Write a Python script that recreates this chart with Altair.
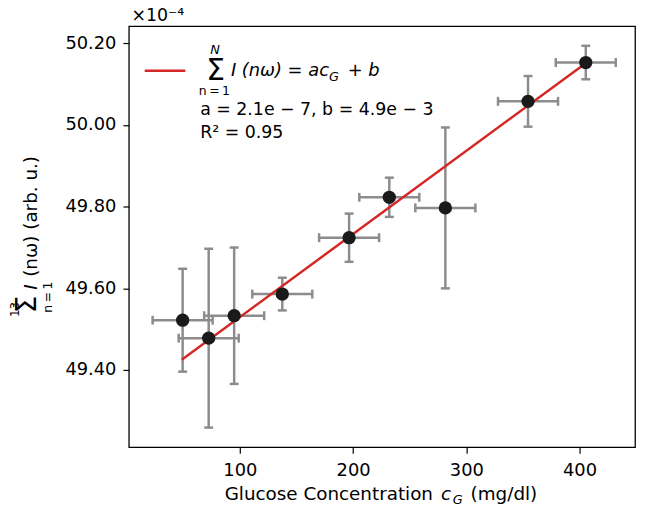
import altair as alt
import pandas as pd

FONT = "DejaVu Sans"

# --- data ---
glucose = [49.5, 72.5, 95.0, 137.5, 196.5, 232.0, 281.5, 354.5, 405.5]
signal = [49.522, 49.478, 49.533, 49.586, 49.724, 49.823, 49.797, 50.058, 50.153]
signal_err = [0.126, 0.219, 0.167, 0.040, 0.059, 0.048, 0.197, 0.062, 0.041]
glucose_err = [26.5, 26.5, 26.5, 26.5, 26.5, 26.5, 26.5, 26.5, 26.5]
fit_x = [48.7, 405.7]
fit_y = [49.425, 50.152]
x_ticks = [100, 200, 300, 400]
y_ticks = [49.4, 49.6, 49.8, 50.0, 50.2]

df = pd.DataFrame({"x": glucose, "y": signal, "ye": signal_err, "xe": glucose_err})
df["xlo"] = df["x"] - df["xe"]
df["xhi"] = df["x"] + df["xe"]
df["ylo"] = df["y"] - df["ye"]
df["yhi"] = df["y"] + df["ye"]
fit = pd.DataFrame({"x": fit_x, "y": fit_y})

xs = alt.Scale(domain=[2, 449], nice=False, zero=False)
ys = alt.Scale(domain=[49.211, 50.242], nice=False, zero=False)
xax = alt.Axis(values=x_ticks, format="d", title=None, labelPadding=9)
yax = alt.Axis(values=y_ticks, format=".2f", title=None, labelPadding=7)

GRAY = "#8c8c8c"
base = alt.Chart(df)

xerr = base.mark_rule(color=GRAY, strokeWidth=2.5).encode(
    x=alt.X("xlo:Q", scale=xs, axis=xax), x2="xhi:Q", y=alt.Y("y:Q", scale=ys, axis=yax))
yerr = base.mark_rule(color=GRAY, strokeWidth=2.5).encode(
    x=alt.X("x:Q", scale=xs), y=alt.Y("ylo:Q", scale=ys), y2="yhi:Q")
cap_xlo = base.mark_tick(color=GRAY, orient="vertical", size=9, thickness=2.5, opacity=1).encode(
    x=alt.X("xlo:Q", scale=xs), y=alt.Y("y:Q", scale=ys))
cap_xhi = base.mark_tick(color=GRAY, orient="vertical", size=9, thickness=2.5, opacity=1).encode(
    x=alt.X("xhi:Q", scale=xs), y=alt.Y("y:Q", scale=ys))
cap_ylo = base.mark_tick(color=GRAY, orient="horizontal", size=9, thickness=2.5, opacity=1).encode(
    x=alt.X("x:Q", scale=xs), y=alt.Y("ylo:Q", scale=ys))
cap_yhi = base.mark_tick(color=GRAY, orient="horizontal", size=9, thickness=2.5, opacity=1).encode(
    x=alt.X("x:Q", scale=xs), y=alt.Y("yhi:Q", scale=ys))

line = alt.Chart(fit).mark_line(color="#d62728", strokeWidth=2.5).encode(
    x=alt.X("x:Q", scale=xs), y=alt.Y("y:Q", scale=ys))
pts = base.mark_circle(color="#1a1a1a", size=180, opacity=1).encode(
    x=alt.X("x:Q", scale=xs), y=alt.Y("y:Q", scale=ys))


def txt(s, x, y, size=18, style="normal", angle=0, align="left", baseline="alphabetic"):
    return alt.Chart(alt.Data(values=[{"t": s}])).mark_text(
        font=FONT, fontSize=size, fontStyle=style, angle=angle, align=align,
        baseline=baseline, color="black").encode(
        x=alt.value(x), y=alt.value(y), text="t:N")


legend_line = alt.Chart(alt.Data(values=[{"a": 1}])).mark_rule(
    color="#d62728", strokeWidth=2.5).encode(x=alt.value(16), x2=alt.value(57), y=alt.value(45))

annots = [
    # legend equation
    txt("Σ", 87.5, 54, size=30, align="center"),
    txt("N", 87, 28, size=13, style="italic", align="center"),
    txt("n\u2009=\u20091", 86.3, 69.3, size=12.5, align="center"),
    txt("I (nω) = ac", 103, 50.5, style="italic"),
    txt("G", 202, 55, size=13, style="italic"),
    txt("+ b", 221, 50.5, style="italic"),
    txt("a = 2.1e − 7, b = 4.9e − 3", 72, 89.3, size=17.5),
    txt("R² = 0.95", 72, 112.7, size=17.5),
    # offset text
    txt("×10⁻⁴", 2.7, -5, size=17.5),
    # x title
    txt("Glucose Concentration", 96.7, 478, size=18.5),
    txt("c", 315, 478, size=18.5, style="italic"),
    txt("G", 327, 482, size=13, style="italic"),
    txt("(mg/dl)", 345, 478, size=18.5),
    # y title (rotated)
    txt("Σ", -94, 281, size=28, angle=270, align="center"),
    txt("13", -111, 286, size=12, angle=270, align="center"),
    txt("n\u2009=\u20091", -78, 273.5, size=12.5, angle=270, align="center"),
    txt("I", -93, 266, size=18.5, style="italic", angle=270, align="left"),
    txt("(nω) (arb. u.)", -93, 253, size=18.5, angle=270, align="left"),
]

chart = alt.layer(xerr, yerr, cap_xlo, cap_xhi, cap_ylo, cap_yhi, line, pts, legend_line, *annots).properties(
    width=511, height=425,
    autosize=alt.AutoSizeParams(type="none"),
    padding={"left": 122, "top": 16, "right": 4, "bottom": 58},
).configure_view(
    stroke="black", strokeWidth=1.3
).configure_axis(
    domain=False, grid=False, ticks=True, tickColor="black", tickSize=6, tickWidth=1.2,
    labelFont=FONT, labelFontSize=18, labelColor="black",
)

chart.save("out.html", embed_options={"renderer": "svg", "actions": False})
